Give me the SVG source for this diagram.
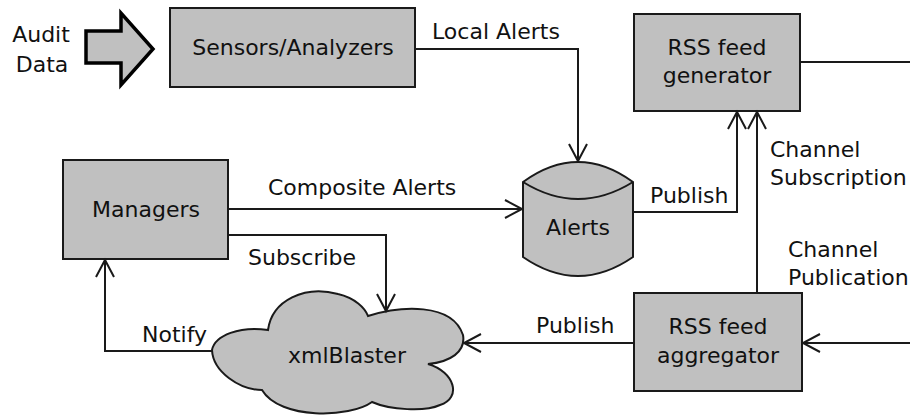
<svg xmlns="http://www.w3.org/2000/svg" width="910" height="416" viewBox="0 0 910 416">
<style>
.box{fill:#c0c0c0;stroke:#1a1a1a;stroke-width:2}
.t{font-family:"DejaVu Sans",sans-serif;font-size:22px;fill:#111}
.c{text-anchor:middle}
.ln{fill:none;stroke:#1a1a1a;stroke-width:2;marker-end:url(#ah)}
.pl{fill:none;stroke:#1a1a1a;stroke-width:2}
</style>
<defs>
<marker id="ah" markerUnits="userSpaceOnUse" markerWidth="24" markerHeight="24" viewBox="-20 -12 24 24" refX="0" refY="0" orient="auto">
<path d="M-17,-9 L0,0 L-17,9" fill="none" stroke="#1a1a1a" stroke-width="2"/>
</marker>
</defs>
<rect width="910" height="416" fill="#fff"/>
<g id="audit">
<polygon points="86,31 121,31 121,13 153,49 121,85 121,63 86,63" fill="#c0c0c0" stroke="#000" stroke-width="3.5" stroke-linejoin="miter"/>
<text class="t c" x="41" y="42">Audit</text>
<text class="t c" x="42" y="72">Data</text>
</g>
<g id="sensors">
<rect class="box" x="170" y="8" width="245" height="79"/>
<text class="t c" x="293" y="55">Sensors/Analyzers</text>
</g>
<g id="generator">
<rect class="box" x="634" y="14" width="166" height="97"/>
<text class="t c" x="717" y="55">RSS feed</text>
<text class="t c" x="717" y="83">generator</text>
</g>
<g id="managers">
<rect class="box" x="63" y="160" width="165" height="99"/>
<text class="t c" x="146" y="217">Managers</text>
</g>
<g id="alerts">
<path class="box" d="M523,182 Q578,142 633,182 V257 Q578,295 523,257 Z"/>
<path class="pl" d="M523,182 Q578,216 633,182"/>
<text class="t c" x="578" y="235">Alerts</text>
</g>
<g id="xmlblaster">
<path class="box" d="M212,350 C215,335 240,326 268,330 C272,300 305,285 338,294 C355,298 365,308 368,316 C400,306 452,302 463,335 C466,352 450,362 428,364 C455,372 462,398 440,405 C425,412 390,410 372,402 C350,418 280,420 262,390 C240,390 213,372 212,350 Z"/>
<text class="t c" x="347" y="363">xmlBlaster</text>
</g>
<g id="aggregator">
<rect class="box" x="634" y="293" width="168" height="98"/>
<text class="t c" x="718" y="334">RSS feed</text>
<text class="t c" x="718" y="363">aggregator</text>
</g>
<g id="connectors">
<path class="ln" d="M415,49 H578 V161"/>
<path class="ln" d="M228,209 H522"/>
<path class="ln" d="M228,235 H386 V311"/>
<path class="ln" d="M213,351 H105 V260"/>
<path class="ln" d="M632,212 H737 V112"/>
<path class="ln" d="M757,293 V112"/>
<path class="pl" d="M800,62 H910"/>
<path class="ln" d="M910,343 H803"/>
<path class="ln" d="M634,343 H464"/>
</g>
<g id="labels">
<text class="t" x="432" y="39">Local Alerts</text>
<text class="t" x="770" y="157">Channel</text>
<text class="t" x="770" y="185">Subscription</text>
<text class="t" x="650" y="203">Publish</text>
<text class="t" x="268" y="195">Composite Alerts</text>
<text class="t" x="248" y="265">Subscribe</text>
<text class="t" x="788" y="257">Channel</text>
<text class="t" x="788" y="285">Publication</text>
<text class="t" x="142" y="342">Notify</text>
<text class="t" x="536" y="333">Publish</text>
</g>
</svg>
